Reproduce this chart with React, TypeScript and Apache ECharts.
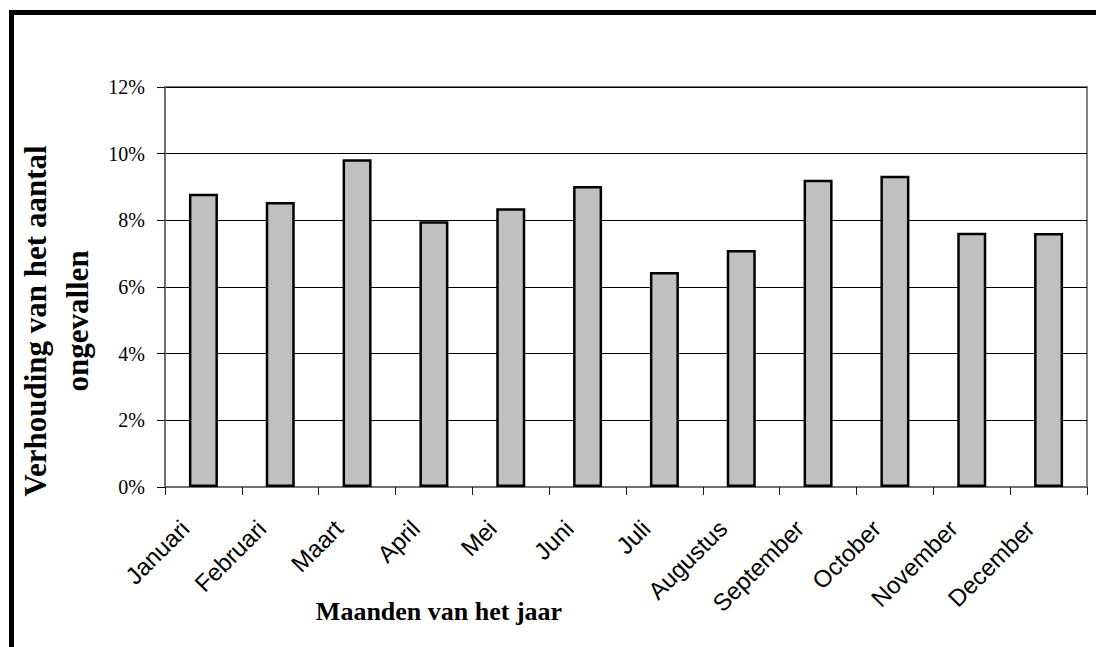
import React, { useEffect, useRef } from "react";
import * as echarts from "echarts";

const months = [
  "Januari", "Februari", "Maart", "April", "Mei", "Juni",
  "Juli", "Augustus", "September", "October", "November", "December",
];
const ratios = [8.8, 8.55, 9.83, 7.97, 8.36, 9.03, 6.45, 7.11, 9.22, 9.34, 7.63, 7.62];
const yTicks = { min: 0, max: 12, interval: 2 };
const xTitle = "Maanden van het jaar";
const yTitle = "Verhouding van het aantal\nongevallen";

export default function App() {
  const ref = useRef<HTMLDivElement>(null);
  useEffect(() => {
    if (!ref.current) return;
    const chart = echarts.init(ref.current, null, { renderer: "svg" });
    chart.setOption({
      animation: false,
      backgroundColor: "#ffffff",
      grid: {
        left: 165,
        top: 87,
        right: 9,
        bottom: 160,
        show: true,
        borderColor: "#808080",
        borderWidth: 2,
        backgroundColor: "transparent",
      },
      xAxis: {
        type: "category",
        data: months,
        axisLine: { show: true, lineStyle: { color: "#707070", width: 2 } },
        axisTick: { show: true, length: 8, lineStyle: { color: "#202020", width: 1 } },
        axisLabel: {
          rotate: 45,
          interval: 0,
          margin: 19,
          padding: [0, 26, 0, 0],
          color: "#000",
          fontFamily: "Liberation Sans, Arial, sans-serif",
          fontSize: 24,
        },
        splitLine: { show: false },
      },
      yAxis: {
        type: "value",
        min: yTicks.min,
        max: yTicks.max,
        interval: yTicks.interval,
        axisLine: { show: true, lineStyle: { color: "#707070", width: 2 } },
        axisTick: { show: true, length: 8, lineStyle: { color: "#000", width: 1 } },
        axisLabel: {
          formatter: "{value}%",
          margin: 20,
          color: "#000",
          fontFamily: "Liberation Serif, Times New Roman, serif",
          fontSize: 20,
        },
        splitLine: { show: true, lineStyle: { color: "#000", width: 1 } },
      },
      series: [
        {
          type: "bar",
          data: ratios,
          barWidth: 29,
          itemStyle: { color: "#C0C0C0", borderColor: "#000", borderWidth: 2.5 },
        },
      ],
      graphic: [
        {
          type: "rect",
          silent: true,
          shape: { x: 11.5, y: 12.5, width: 1120, height: 680 },
          style: { fill: "none", stroke: "#000", lineWidth: 5 },
          z: 100,
        },
        {
          type: "text",
          x: 439,
          y: 611,
          style: {
            text: xTitle,
            font: "bold 26px 'Liberation Serif', 'Times New Roman', serif",
            fill: "#000",
            textAlign: "center",
            textVerticalAlign: "middle",
          },
        },
        {
          type: "text",
          x: 56,
          y: 321,
          rotation: Math.PI / 2,
          style: {
            text: yTitle,
            font: "bold 31px 'Liberation Serif', 'Times New Roman', serif",
            lineHeight: 42,
            fill: "#000",
            textAlign: "center",
            textVerticalAlign: "middle",
          },
        },
      ],
    });
    return () => chart.dispose();
  }, []);
  return (
    <div
      ref={ref}
      style={{ position: "fixed", left: 0, top: 0, width: 1096, height: 647, background: "#fff" }}
    />
  );
}
